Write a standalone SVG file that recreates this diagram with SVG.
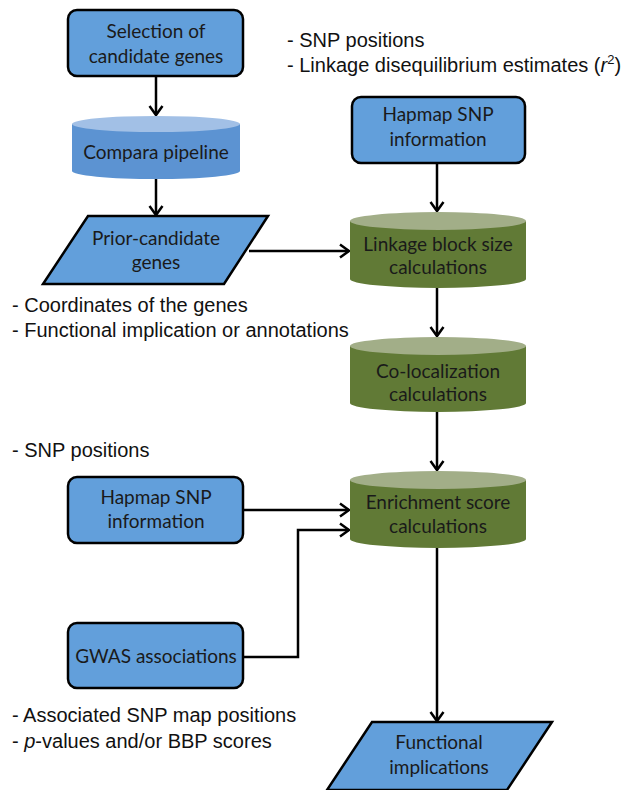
<svg xmlns="http://www.w3.org/2000/svg" width="643" height="790" viewBox="0 0 643 790">
<style>
.box{fill:#629fdb;stroke:#000;stroke-width:2.5}
.lbl{font-family:Lato,"Open Sans",sans-serif;font-size:19px;fill:#1a1a1a;text-anchor:middle}
.note{font-family:"Liberation Sans",Arial,sans-serif;font-size:20px;fill:#111}
.bbody{fill:#5c93d2}
.btop{fill:#a2c0e6}
.gbody{fill:#617a36}
.gtop{fill:#a2ae88}
.con{fill:none;stroke:#000;stroke-width:2.5}
</style>
<defs>
<marker id="ah" markerUnits="userSpaceOnUse" markerWidth="14" markerHeight="16" refX="11" refY="8" orient="auto">
<path d="M2,1.5 L11,8 L2,14.5" fill="none" stroke="#000" stroke-width="2.5"/>
</marker>
</defs>

<g id="connectors">
<line class="con" x1="156" y1="76" x2="156" y2="115" marker-end="url(#ah)"/>
<line class="con" x1="156" y1="178" x2="156" y2="215" marker-end="url(#ah)"/>
<line class="con" x1="249" y1="251" x2="349" y2="251" marker-end="url(#ah)"/>
<line class="con" x1="437" y1="163" x2="437" y2="211" marker-end="url(#ah)"/>
<line class="con" x1="437" y1="288" x2="437" y2="336" marker-end="url(#ah)"/>
<line class="con" x1="437" y1="412" x2="437" y2="470" marker-end="url(#ah)"/>
<line class="con" x1="243" y1="510" x2="349" y2="510" marker-end="url(#ah)"/>
<polyline class="con" points="243,657 298,657 298,530 349,530" marker-end="url(#ah)"/>
<line class="con" x1="437" y1="548" x2="437" y2="721" marker-end="url(#ah)"/>
</g>

<g id="selection">
<rect class="box" x="68" y="10" width="175" height="66" rx="9"/>
<text class="lbl" x="156" y="38">Selection of</text>
<text class="lbl" x="156" y="63">candidate genes</text>
</g>

<g id="compara">
<path class="bbody" d="M72,124 L72,171 A84,8 0 0 0 240,171 L240,124 Z"/>
<ellipse class="btop" cx="156" cy="124" rx="84" ry="8"/>
<text class="lbl" x="156" y="159">Compara pipeline</text>
</g>

<g id="prior">
<polygon class="box" points="88,216 268,216 224,284 43,284"/>
<text class="lbl" x="156" y="245">Prior-candidate</text>
<text class="lbl" x="156" y="269">genes</text>
</g>

<g id="hapmap1">
<rect class="box" x="352" y="97" width="173" height="66" rx="9"/>
<text class="lbl" x="438" y="121">Hapmap SNP</text>
<text class="lbl" x="438" y="146">information</text>
</g>

<g id="linkage">
<path class="gbody" d="M350,221 L350,279 A88,9 0 0 0 526,279 L526,221 Z"/>
<ellipse class="gtop" cx="438" cy="221" rx="88" ry="9"/>
<text class="lbl" x="438" y="251">Linkage block size</text>
<text class="lbl" x="438" y="274">calculations</text>
</g>

<g id="coloc">
<path class="gbody" d="M350,346 L350,403 A88,9 0 0 0 526,403 L526,346 Z"/>
<ellipse class="gtop" cx="438" cy="346" rx="88" ry="9"/>
<text class="lbl" x="438" y="378">Co-localization</text>
<text class="lbl" x="438" y="401">calculations</text>
</g>

<g id="enrichment">
<path class="gbody" d="M350,480 L350,539 A88,9 0 0 0 526,539 L526,480 Z"/>
<ellipse class="gtop" cx="438" cy="480" rx="88" ry="9"/>
<text class="lbl" x="438" y="509">Enrichment score</text>
<text class="lbl" x="438" y="533">calculations</text>
</g>

<g id="hapmap2">
<rect class="box" x="68" y="477" width="175" height="66" rx="9"/>
<text class="lbl" x="156" y="504">Hapmap SNP</text>
<text class="lbl" x="156" y="528">information</text>
</g>

<g id="gwas">
<rect class="box" x="68" y="623" width="175" height="65" rx="9"/>
<text class="lbl" x="156" y="663">GWAS associations</text>
</g>

<g id="functional">
<polygon class="box" points="372,722 552,722 507,790 327,790"/>
<text class="lbl" x="439" y="749">Functional</text>
<text class="lbl" x="439" y="774">implications</text>
</g>

<g id="notes">
<text class="note" x="287" y="47">- SNP positions</text>
<text class="note" x="287" y="72">- Linkage disequilibrium estimates (<tspan font-style="italic">r</tspan><tspan font-size="13" dy="-8">2</tspan><tspan dy="8">)</tspan></text>
<text class="note" x="12" y="312">- Coordinates of the genes</text>
<text class="note" x="12" y="337">- Functional implication or annotations</text>
<text class="note" x="12" y="457">- SNP positions</text>
<text class="note" x="12" y="722">- Associated SNP map positions</text>
<text class="note" x="12" y="748">- <tspan font-style="italic">p</tspan>-values and/or BBP scores</text>
</g>
</svg>
